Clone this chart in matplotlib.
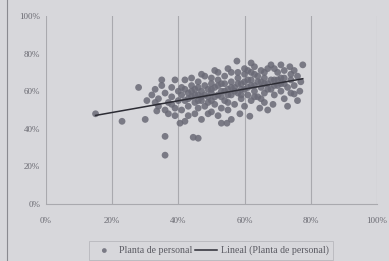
import numpy as np
import matplotlib
matplotlib.use("Agg")
import matplotlib.pyplot as plt

# scatter values in percent
x_pct = [15, 23, 28, 30, 30.5, 33.5, 36, 36, 44.5, 46, 40.5, 42,
         32, 33, 34, 35, 34, 36, 37, 38, 38, 39, 37, 39, 40, 40, 35, 36, 33, 39, 38, 41,
         41, 42, 42, 43, 43, 44, 44, 45, 45, 45, 46, 46, 46, 47, 47, 47, 48, 48, 48, 49,
         49, 49, 50, 50, 50, 41, 43, 44, 47, 42,
         51, 51, 51, 52, 52, 52, 53, 53, 53, 54, 54, 54.7, 55, 55, 56, 56, 56, 57, 57, 57.7,
         58, 58, 58.6, 59, 59, 60, 60, 60, 55, 53, 50, 52, 56,
         61, 61, 61.6, 62, 62, 62, 63, 63, 64, 64, 64.6, 65, 65, 66, 66, 66, 67, 67, 68, 68,
         68.6, 69, 69, 70, 70, 63, 65, 67, 69, 61,
         71, 71, 72, 72, 72, 73, 73.7, 74, 74, 75, 75, 75, 76, 76.7, 77.6, 77, 76, 73, 71, 74,
         44, 46, 48, 50, 52, 54, 56, 58, 60, 62, 64, 66, 68, 70, 72, 47, 49, 51, 53, 55,
         57, 59, 61, 63, 65, 67, 69, 71, 45, 43, 58, 60, 62, 66, 54, 50, 46, 55, 59, 63]
y_pct = [48, 44, 62, 45, 55, 49.5, 36, 26, 35.5, 35, 43, 44,
         58, 61, 56, 63, 52, 59, 54, 57, 62, 51, 48, 47, 55, 60, 66, 50, 54, 66, 53, 58,
         62, 66, 55, 59, 52, 63, 57, 48, 54, 61, 65, 58, 51, 45, 60, 55, 63, 68, 52, 57,
         61, 48, 64, 55, 59, 50, 47, 67, 69, 61,
         71, 62, 53, 58, 66, 47, 43, 60, 64, 55, 68, 43, 61, 50, 65, 58, 70, 53, 62, 76,
         67, 59, 48, 64, 56, 61, 69, 52, 72, 51, 49, 70, 45,
         66, 58, 46.7, 75, 63, 55, 69, 60, 65, 57, 51, 71, 62, 67, 59, 54, 64, 72, 74, 61,
         53, 66, 58, 70, 63, 73, 56, 50, 72, 71,
         67, 60, 64, 71, 56, 62, 73, 66, 59, 71, 58.5, 63, 68, 60, 74, 65, 55, 52, 74, 69,
         60, 62, 58, 61, 63, 60, 62, 64, 65, 66, 68, 64, 66, 66, 67, 57, 54, 57, 57, 58,
         60, 61, 62, 63, 65, 61, 63, 64, 58, 56, 70, 72, 70, 70, 64, 67, 55, 54, 58, 57]
x_ticks = [0, 20, 40, 60, 80, 100]
y_ticks = [0, 20, 40, 60, 80, 100]

bg = "#d7d7db"
txt = "#6a6a72"

fig = plt.figure(figsize=(3.89, 2.61), dpi=100, facecolor=bg)
ax = fig.add_axes([0.118, 0.218, 0.851, 0.721], facecolor=bg)

x = np.array(x_pct) / 100.0
y = np.array(y_pct) / 100.0

ax.scatter(x, y, s=24, color="#6a6a76", alpha=0.85, edgecolors="none",
           label="Planta de personal", zorder=3)

# linear trendline fitted to the points
coef = np.polyfit(x, y, 1)
xs = np.array([x.min(), x.max()])
ax.plot(xs, np.polyval(coef, xs), color="#2c2c34", lw=1.1,
        label="Lineal (Planta de personal)", zorder=4)

ax.set_xlim(0, 1)
ax.set_ylim(0, 1)
ax.set_xticks([t / 100 for t in x_ticks])
ax.set_yticks([t / 100 for t in y_ticks])
ax.set_xticklabels(["%d%%" % t for t in x_ticks])
ax.set_yticklabels(["%d%%" % t for t in y_ticks])
ax.tick_params(length=0, labelsize=6.5, labelcolor=txt)
ax.tick_params(axis="x", pad=9)
ax.tick_params(axis="y", pad=4)
for lab in ax.get_xticklabels() + ax.get_yticklabels():
    lab.set_family("Liberation Serif")

ax.grid(axis="x", color="#a9a9ae", lw=0.8)
ax.set_axisbelow(True)
for side in ["top", "right", "left"]:
    ax.spines[side].set_visible(False)
ax.spines["bottom"].set_color("#a9a9ae")

leg = fig.legend(loc="center", bbox_to_anchor=(0.543, 0.040), ncol=2,
                 frameon=True, handlelength=2.2, columnspacing=0.3,
                 handletextpad=0.4, borderpad=0.45, fancybox=False,
                 markerscale=0.7,
                 prop={"family": "Liberation Serif", "size": 7.1})
leg.get_frame().set_facecolor(bg)
leg.get_frame().set_edgecolor("#b5b5ba")
leg.get_frame().set_linewidth(0.7)
for t in leg.get_texts():
    t.set_color("#5a5a62")

# scan border on the left
fig.add_artist(plt.Line2D([0.018, 0.018], [0.0, 1.0], color="#8a8a90", lw=0.8))

fig.savefig("out.png", dpi=100, facecolor=bg)
